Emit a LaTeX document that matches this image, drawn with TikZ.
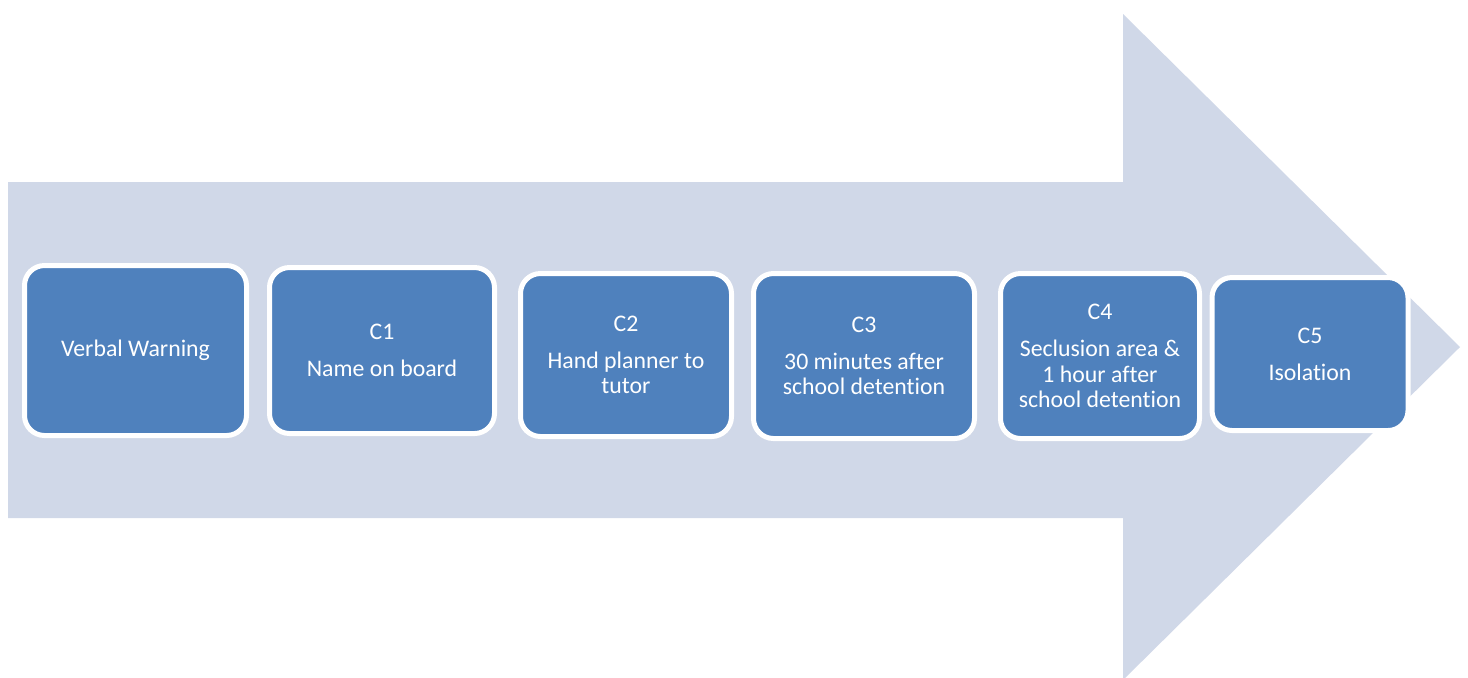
\documentclass[tikz,border=0pt]{standalone}
\usepackage{fontspec}
\setmainfont{Carlito}[Ligatures=NoCommon]
\definecolor{arrowfill}{HTML}{D0D8E8}
\definecolor{boxfill}{HTML}{4F81BD}
\begin{document}
\begin{tikzpicture}[x=0.5pt,y=-0.5pt,
  stepbox/.style={draw=white, line width=2.5pt, fill=boxfill, rounded corners=10pt,
    text=white, align=center, font=\fontsize{11.9}{12.75}\selectfont, inner sep=0pt}]
\useasboundingbox (0,0) rectangle (1468,677);
\clip (0,0) rectangle (1468,677);
\fill[white] (0,0) rectangle (1468,677);
\fill[arrowfill] (8,182) -- (1123,182) -- (1123,14) -- (1460,347) -- (1123,680) -- (1123,518) -- (8,518) -- cycle;
\node[stepbox, minimum width=111pt, minimum height=85pt] (v) at (135.5,350.5) {Verbal Warning};
\node[stepbox, minimum width=112.5pt, minimum height=83pt] (c1) at (382,350.5) {C1\\[5.75pt]Name on board};
\node[stepbox, minimum width=105.5pt, minimum height=81.5pt] (c2) at (626,355) {C2\\[5.75pt]Hand planner to\\tutor};
\node[stepbox, minimum width=110.5pt, minimum height=82.5pt] (c3) at (864,356) {C3\\[5.75pt]30 minutes after\\school detention};
\node[stepbox, minimum width=99.5pt, minimum height=82.5pt] (c4) at (1100,356) {C4\\[5.75pt]Seclusion area \&\\1 hour after\\school detention};
\node[stepbox, minimum width=98pt, minimum height=76.5pt] (c5) at (1310,354) {C5\\[5.75pt]Isolation};
\end{tikzpicture}
\end{document}
